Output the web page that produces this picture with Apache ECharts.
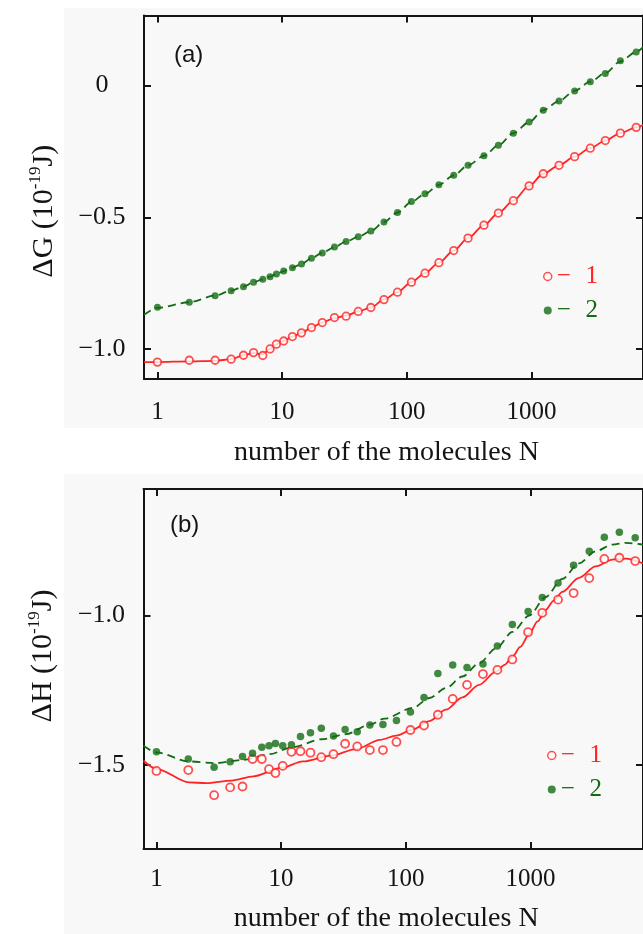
<!DOCTYPE html>
<html>
<head>
<meta charset="utf-8">
<script src="https://cdn.jsdelivr.net/npm/echarts@6/dist/echarts.min.js"></script>
<style>
html, body { margin: 0; padding: 0; background: #ffffff; }
#chart { width: 643px; height: 934px; }
</style>
</head>
<body>
<div id="chart"></div>
<script>
// Number of molecules N at which both quantities were computed
const moleculesN = [1, 1.8, 2.9, 3.9, 4.9, 5.9, 7, 8, 9, 10.3, 12.1, 14.3, 17.2, 21, 26.3, 32.6, 40.8, 51.5,
  65.6, 84.2, 109, 140, 181, 238, 310, 416, 543, 716, 958, 1245, 1665, 2220, 2965, 3915, 5170, 6925];

// (a) Gibbs energy, 10^-19 J
const dG1 = [-1.049, -1.042, -1.042, -1.038, -1.023, -1.013, -1.024, -0.999, -0.981, -0.969, -0.952, -0.938,
  -0.918, -0.899, -0.880, -0.875, -0.857, -0.842, -0.812, -0.784, -0.746, -0.712, -0.672, -0.626,
  -0.579, -0.530, -0.484, -0.437, -0.381, -0.335, -0.303, -0.270, -0.238, -0.209, -0.181, -0.159];
const dG2 = [-0.841, -0.822, -0.797, -0.778, -0.763, -0.746, -0.735, -0.725, -0.715, -0.704, -0.691, -0.677,
  -0.655, -0.635, -0.613, -0.592, -0.574, -0.552, -0.518, -0.482, -0.440, -0.411, -0.377, -0.341,
  -0.303, -0.267, -0.227, -0.181, -0.139, -0.094, -0.059, -0.021, 0.014, 0.045, 0.093, 0.127];

// (a) curves through the points, continued to the frame edges
const curveGN = [0.78, 1, 1.8, 2.9, 3.9, 4.9, 5.9, 7, 8, 9, 10.3, 12.1, 14.3, 17.2, 21, 26.3, 32.6, 40.8, 51.5,
  65.6, 84.2, 109, 140, 181, 238, 310, 416, 543, 716, 958, 1245, 1665, 2220, 2965, 3915, 5170, 6925, 7850];
const curveG1 = [-1.049, -1.049, -1.046, -1.044, -1.038, -1.023, -1.015, -1.020, -0.999, -0.981, -0.969, -0.952, -0.938,
  -0.918, -0.899, -0.882, -0.873, -0.857, -0.842, -0.812, -0.784, -0.746, -0.712, -0.672, -0.626,
  -0.579, -0.530, -0.484, -0.437, -0.381, -0.335, -0.303, -0.270, -0.238, -0.209, -0.181, -0.159, -0.150];
const curveG2 = [-0.870, -0.843, -0.822, -0.797, -0.778, -0.763, -0.746, -0.735, -0.725, -0.715, -0.704, -0.691, -0.677,
  -0.655, -0.635, -0.613, -0.592, -0.574, -0.552, -0.518, -0.482, -0.442, -0.411, -0.377, -0.341,
  -0.303, -0.267, -0.227, -0.181, -0.139, -0.094, -0.059, -0.021, 0.014, 0.047, 0.091, 0.127, 0.145];

// (b) enthalpy, 10^-19 J
const dH1 = [-1.520, -1.517, -1.601, -1.575, -1.572, -1.480, -1.480, -1.514, -1.527, -1.503, -1.456, -1.454,
  -1.459, -1.474, -1.464, -1.429, -1.438, -1.450, -1.450, -1.423, -1.383, -1.368, -1.332, -1.279,
  -1.232, -1.196, -1.182, -1.147, -1.056, -0.991, -0.947, -0.925, -0.875, -0.811, -0.807, -0.818];
const dH2 = [-1.456, -1.480, -1.508, -1.489, -1.472, -1.461, -1.441, -1.436, -1.428, -1.436, -1.432, -1.405,
  -1.392, -1.377, -1.403, -1.381, -1.389, -1.366, -1.365, -1.351, -1.323, -1.274, -1.194, -1.166,
  -1.174, -1.162, -1.102, -1.030, -0.987, -0.940, -0.891, -0.832, -0.785, -0.738, -0.722, -0.740];

// (b) fitted curves
const fitH1N = [0.787, 1, 1.82, 2.5, 4, 6, 10, 15, 25, 40, 62, 84, 114, 155, 210, 285, 387, 530, 620, 718, 830,
  980, 1140, 1320, 1540, 1800, 2450, 3340, 4550, 5810, 8000];
const fitH1 = [-1.486, -1.513, -1.558, -1.561, -1.552, -1.538, -1.510, -1.488, -1.469, -1.447, -1.416, -1.402,
  -1.381, -1.353, -1.315, -1.274, -1.232, -1.188, -1.165, -1.138, -1.105,
  -1.062, -1.020, -0.982, -0.950, -0.921, -0.874, -0.836, -0.813, -0.810, -0.826];
const fitH2N = [0.787, 1, 1.82, 2.93, 4.97, 8.08, 12.2, 21.2, 33.1, 51.5, 67.3, 114, 155, 210, 285, 387, 530,
  718, 980, 1320, 1800, 2450, 3340, 4550, 5810, 8000];
const fitH2 = [-1.436, -1.458, -1.488, -1.494, -1.483, -1.464, -1.441, -1.414, -1.397, -1.365, -1.345, -1.309,
  -1.276, -1.243, -1.204, -1.160, -1.110, -1.055, -1.000, -0.939, -0.878, -0.826, -0.785, -0.763, -0.757, -0.763];

// Axis ticks
const xTicks = [1, 10, 100, 1000];
const yTicksG = [-1.0, -0.5, 0];
const yTicksH = [-1.5, -1.0];

const RED = '#ff2424';
const GREEN = '#136b13';
const INK = '#141414';
const SERIF = '"Liberation Serif", "Times New Roman", serif';

const pairs = (xs, ys) => xs.map((x, i) => [x, ys[i]]);
const fmtY = v => (Math.abs(v) < 1e-9 ? '0' : (v < 0 ? '\u2212' : '') + Math.abs(v).toFixed(1));

function xAxes(gridIndex, min, max, labelMargin, nameGap) {
  const line = { onZero: false, lineStyle: { color: INK, width: 2 } };
  const tick = { inside: true, length: 7, lineStyle: { color: INK, width: 2 }, customValues: xTicks };
  return [
    {
      type: 'log', logBase: 10, gridIndex, min, max, position: 'bottom',
      axisLine: line, axisTick: tick, splitLine: { show: false }, minorTick: { show: false },
      axisLabel: {
        customValues: xTicks, margin: labelMargin, fontFamily: SERIF, fontSize: 25, lineHeight: 25, color: INK,
        formatter: v => String(Math.round(v))
      },
      name: 'number of the molecules N', nameLocation: 'middle', nameGap,
      nameTextStyle: { fontFamily: SERIF, fontSize: 28, lineHeight: 28, color: INK, padding: [0, 14, 0, 0] }
    },
    {
      type: 'log', logBase: 10, gridIndex, min, max, position: 'top',
      axisLine: line, axisTick: tick, axisLabel: { show: false }, splitLine: { show: false }
    }
  ];
}

function yAxes(gridIndex, min, max, ticks, name, pad) {
  const line = { show: true, onZero: false, lineStyle: { color: INK, width: 2 } };
  const tick = { show: true, inside: true, length: 7, lineStyle: { color: INK, width: 2 }, customValues: ticks };
  return [
    {
      type: 'value', gridIndex, min, max, position: 'left',
      axisLine: line, axisTick: tick, splitLine: { show: false },
      axisLabel: {
        customValues: ticks, margin: 42, align: 'center', fontFamily: SERIF, fontSize: 26, color: INK,
        formatter: fmtY
      },
      name, nameLocation: 'middle', nameGap: 85,
      nameTextStyle: {
        color: INK, padding: pad,
        rich: {
          n: { fontFamily: SERIF, fontSize: 30, lineHeight: 32, color: INK, verticalAlign: 'bottom' },
          s: { fontFamily: SERIF, fontSize: 17, lineHeight: 17, color: INK, verticalAlign: 'top' }
        }
      }
    },
    {
      type: 'value', gridIndex, min, max, position: 'right',
      axisLine: line, axisTick: tick, axisLabel: { show: false }, splitLine: { show: false }
    }
  ];
}

function pointSeries(xi, yi, vals, filled, size) {
  return {
    type: 'scatter', name: filled ? '2' : '1', xAxisIndex: xi, yAxisIndex: yi, z: 5,
    symbol: 'circle', symbolSize: size,
    itemStyle: filled ? { color: GREEN } : { color: '#ffffff', borderColor: RED, borderWidth: 1.8 },
    data: pairs(moleculesN, vals)
  };
}

function curveSeries(xi, yi, xs, ys, dashed) {
  return {
    type: 'line', name: dashed ? 'fit 2' : 'fit 1', xAxisIndex: xi, yAxisIndex: yi, z: 3,
    showSymbol: false, symbol: 'none', smooth: 0.3, smoothMonotone: 'x',
    lineStyle: { color: dashed ? GREEN : RED, width: 1.8, type: dashed ? [8, 5] : 'solid' },
    data: pairs(xs, ys)
  };
}

function legendAt(left, top) {
  return {
    left, top, padding: 0, orient: 'vertical', itemWidth: 8, itemHeight: 8, itemGap: 9,
    selectedMode: false,
    textStyle: { fontFamily: SERIF, fontSize: 25, lineHeight: 25 },
    formatter: name => '\u2212\u2002\u200A' + name,
    data: [
      { name: '1', icon: 'circle', itemStyle: { color: '#ffffff', borderColor: RED, borderWidth: 1.5 },
        textStyle: { color: RED } },
      { name: '2', icon: 'circle', itemStyle: { color: GREEN, borderWidth: 0 }, textStyle: { color: GREEN } }
    ]
  };
}

const chart = echarts.init(document.getElementById('chart'), null, { renderer: 'canvas' });

chart.setOption({
  backgroundColor: '#ffffff',
  animation: false,
  graphic: [
    { type: 'rect', z: -20, silent: true, shape: { x: 64, y: 8, width: 579, height: 420 }, style: { fill: '#f8f8f8' } },
    { type: 'rect', z: -20, silent: true, shape: { x: 64, y: 474, width: 579, height: 460 }, style: { fill: '#f8f8f8' } },
    { type: 'text', left: 174, top: 43, style: { text: '(a)', font: '24px "Liberation Sans", Arial, sans-serif', fill: INK } },
    { type: 'text', left: 170, top: 513, style: { text: '(b)', font: '24px "Liberation Sans", Arial, sans-serif', fill: INK } }
  ],
  grid: [
    { left: 144, top: 15.5, width: 501.5, height: 363.5 },
    { left: 143.5, top: 489, width: 501, height: 363.7 }
  ],
  legend: [legendAt(543, 264), legendAt(547, 743)],
  xAxis: [
    ...xAxes(0, 0.78, 7850, 21, 60),
    ...xAxes(1, 0.787, 8000, 18, 56)
  ],
  yAxis: [
    ...yAxes(0, -1.113, 0.265, yTicksG, '{n|\u0394G (10}{s|-19}{n|J)}', [0, 28, 0, 0]),
    ...yAxes(1, -1.781, -0.577, yTicksH, '{n|\u0394H (10}{s|-19}{n|J)}', [0, 0, 0, 26])
  ],
  series: [
    curveSeries(0, 0, curveGN, curveG1, false),
    curveSeries(0, 0, curveGN, curveG2, true),
    pointSeries(0, 0, dG1, false, 7.5),
    pointSeries(0, 0, dG2, true, 7),
    curveSeries(2, 2, fitH1N, fitH1, false),
    curveSeries(2, 2, fitH2N, fitH2, true),
    pointSeries(2, 2, dH1, false, 8),
    pointSeries(2, 2, dH2, true, 7.5)
  ]
});
</script>
</body>
</html>
